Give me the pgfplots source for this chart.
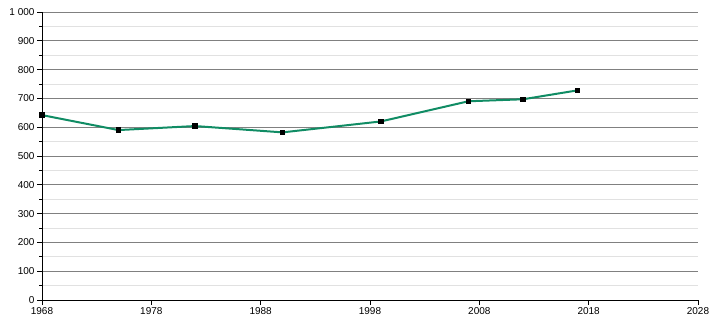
\documentclass[border=0pt]{standalone}
\usepackage{pgfplots}
\pgfplotsset{compat=1.18}
\usepackage{fontspec}
\setmainfont{Liberation Sans}
\definecolor{linegreen}{RGB}{16,140,100}
\definecolor{majgrid}{RGB}{128,128,128}
\definecolor{mingrid}{RGB}{225,225,225}
\begin{document}
\begin{tikzpicture}
\path[use as bounding box] (-42pt,-20pt) rectangle (668pt,300pt);
\begin{axis}[
  at={(0,0)}, anchor=south west,
  scale only axis, width=656pt, height=288pt,
  xmin=1968, xmax=2028, ymin=0, ymax=1000,
  axis x line=bottom, axis y line=left,
  axis line style={black, line width=0.9pt, -},
  xtick={1968,1978,1988,1998,2008,2018,2028},
  xticklabels={1968,1978,1988,1998,2008,2018,2028},
  ytick={0,100,200,300,400,500,600,700,800,900,1000},
  yticklabels={0,100,200,300,400,500,600,700,800,900,1 000},
  minor ytick={50,150,250,350,450,550,650,750,850,950},
  tick align=outside,
  major tick length=5pt, minor tick length=3pt,
  tick style={black, line width=0.8pt},
  ymajorgrids, yminorgrids,
  major grid style={majgrid, line width=0.8pt},
  minor grid style={mingrid, line width=0.8pt},
  tick label style={font=\fontsize{10}{12}\selectfont, text=black},
  yticklabel style={xshift=1pt},
  xticklabel style={yshift=1pt},
  clip=false,
]
\addplot[linegreen, line width=2pt, mark=square*, mark size=2.2pt,
  mark options={black, fill=black, line width=0pt}]
  coordinates {(1968,642) (1975,590) (1982,604) (1990,582) (1999,620) (2007,690) (2012,697) (2017,728)};
\end{axis}
\end{tikzpicture}
\end{document}
